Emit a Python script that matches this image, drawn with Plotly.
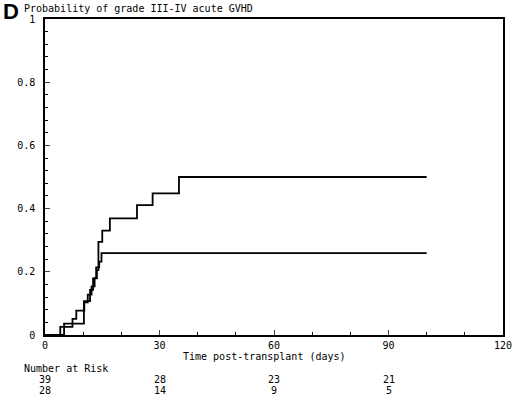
import plotly.graph_objects as go

# Data
days_a = [0, 4.0, 7.2, 8.2, 10.3, 11.2, 12.2, 13.0, 13.6, 14.0, 15.0, 17.0, 24.1, 28.2, 35.1, 100]
prob_a = [0, 0.026, 0.051, 0.077, 0.103, 0.128, 0.154, 0.18, 0.205, 0.295, 0.33, 0.369, 0.411, 0.448, 0.5, 0.5]

days_b = [0, 5.0, 10.2, 11.8, 12.6, 13.4, 14.2, 14.8, 100]
prob_b = [0, 0.036, 0.107, 0.143, 0.179, 0.214, 0.232, 0.259, 0.259]

risk_days = [0, 30, 60, 90]
risk_row1 = ["39", "28", "23", "21"]
risk_row2 = ["28", "14", "9", "5"]

x_ticks = [0, 30, 60, 90, 120]
y_ticks = [0, 0.2, 0.4, 0.6, 0.8, 1]

MONO = "DejaVu Sans Mono"

fig = go.Figure()
for xs, ys in [(days_a, prob_a), (days_b, prob_b)]:
    fig.add_trace(go.Scatter(x=xs, y=ys, mode="lines", line=dict(color="black", width=1.8, shape="hv"),
                             showlegend=False, hoverinfo="skip"))

fig.update_layout(
    width=520, height=395,
    margin=dict(l=45, r=8, t=19, b=60),
    paper_bgcolor="white", plot_bgcolor="white",
    font=dict(family=MONO, size=10, color="black"),
    xaxis=dict(range=[0, 120], tickvals=x_ticks, ticks="inside", ticklen=5, tickwidth=1,
               showline=True, mirror=True, linecolor="black", linewidth=1.5,
               showgrid=False, zeroline=False,
               minor=dict(dtick=10, ticks="inside", ticklen=3, tickcolor="black", showgrid=False),
               tickfont=dict(family=MONO, size=10)),
    yaxis=dict(range=[0, 1], tickvals=y_ticks, ticks="inside", ticklen=5, tickwidth=1,
               showline=True, mirror=True, linecolor="black", linewidth=1.5,
               showgrid=False, zeroline=False, ticklabelstandoff=6,
               minor=dict(dtick=0.04, ticks="inside", ticklen=3, tickcolor="black", showgrid=False),
               tickfont=dict(family=MONO, size=10)),
)

def yp(py):
    return (335 - py) / 316.0

PW = 467.0
anns = []
anns.append(dict(text="<b>D</b>", x=-45 / PW, y=yp(11), xref="paper", yref="paper", showarrow=False,
                 xanchor="left", yanchor="middle", font=dict(family="Liberation Sans", size=22)))
anns.append(dict(text="Probability of grade III-IV acute GVHD", x=-23 / PW, y=yp(8), xref="paper", yref="paper",
                 showarrow=False, xanchor="left", yanchor="middle", font=dict(family=MONO, size=10)))
anns.append(dict(text="Time post-transplant (days)", x=57.5, y=yp(356), xref="x", yref="paper",
                 showarrow=False, xanchor="center", yanchor="middle", font=dict(family=MONO, size=10)))
anns.append(dict(text="Number at Risk", x=-23 / PW, y=yp(368), xref="paper", yref="paper",
                 showarrow=False, xanchor="left", yanchor="middle", font=dict(family=MONO, size=10)))
for d, r1, r2 in zip(risk_days, risk_row1, risk_row2):
    anns.append(dict(text=r1, x=d, y=yp(379), xref="x", yref="paper", showarrow=False,
                     xanchor="center", yanchor="middle", font=dict(family=MONO, size=10)))
    anns.append(dict(text=r2, x=d, y=yp(390), xref="x", yref="paper", showarrow=False,
                     xanchor="center", yanchor="middle", font=dict(family=MONO, size=10)))
fig.update_layout(annotations=anns)

fig.write_html("out.html", config={"displayModeBar": False},
               post_script="document.body.style.margin='0';document.body.style.overflow='hidden';")
